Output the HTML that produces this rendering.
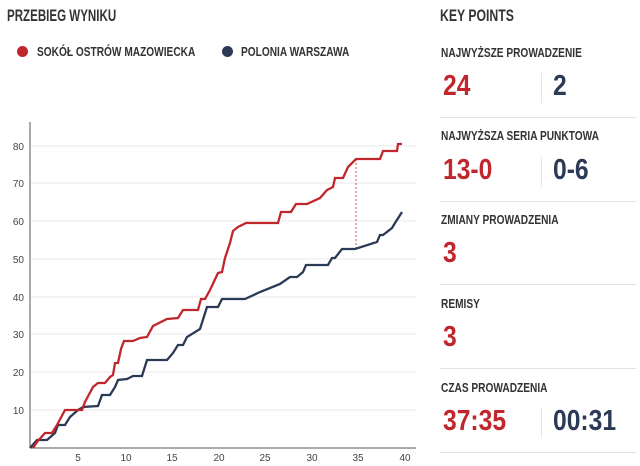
<!DOCTYPE html>
<html><head><meta charset="utf-8"><style>
body{margin:0;width:640px;height:466px;background:#fff;font-family:"Liberation Sans",sans-serif;overflow:hidden;position:relative;color:#333}
.t{position:absolute;font-weight:bold;white-space:nowrap;transform-origin:0 0;transform:scaleX(0.78)}
.lab{font-size:13px;color:#333;left:441px}
.big{font-size:29px;font-weight:bold;position:absolute;transform-origin:0 0;transform:scaleX(0.85);white-space:nowrap}
.r{color:#c0272d}.n{color:#2b3a55}
.hr{position:absolute;left:440px;width:196px;height:1px;background:#e3e3e3}
.vs{position:absolute;left:541px;width:1px;height:30px;background:#e6e6e6}
</style></head><body>
<div class="t" style="left:7px;top:6px;font-size:17px;color:#333;transform:scaleX(0.68)">PRZEBIEG WYNIKU</div>
<div style="position:absolute;left:17px;top:46px;width:11px;height:11px;border-radius:50%;background:#c0272d"></div>
<div class="t" style="left:37px;top:44px;font-size:13px">SOKÓŁ OSTRÓW MAZOWIECKA</div>
<div style="position:absolute;left:222px;top:46px;width:11px;height:11px;border-radius:50%;background:#2b3a55"></div>
<div class="t" style="left:241px;top:44px;font-size:13px">POLONIA WARSZAWA</div>
<svg style="position:absolute;left:0;top:0" width="430" height="466">
<g stroke="#e8e8e8" stroke-width="1">
<line x1="30" x2="416" y1="410" y2="410"/><line x1="30" x2="416" y1="372" y2="372"/><line x1="30" x2="416" y1="334" y2="334"/><line x1="30" x2="416" y1="297" y2="297"/><line x1="30" x2="416" y1="259" y2="259"/><line x1="30" x2="416" y1="221" y2="221"/><line x1="30" x2="416" y1="183" y2="183"/><line x1="30" x2="416" y1="146" y2="146"/>
</g>
<line x1="30" y1="122" x2="30" y2="448" stroke="#555"/>
<line x1="30" y1="448" x2="416" y2="448" stroke="#555"/>
<g font-family="Liberation Sans,sans-serif" font-size="10" fill="#444" text-anchor="end">
<text x="24" y="414">10</text><text x="24" y="376">20</text><text x="24" y="338">30</text><text x="24" y="301">40</text><text x="24" y="263">50</text><text x="24" y="225">60</text><text x="24" y="187">70</text><text x="24" y="150">80</text>
</g>
<g font-family="Liberation Sans,sans-serif" font-size="10" fill="#444" text-anchor="middle">
<text x="78" y="461">5</text><text x="126" y="461">10</text><text x="172" y="461">15</text><text x="219" y="461">20</text><text x="265" y="461">25</text><text x="312" y="461">30</text><text x="358" y="461">35</text><text x="405" y="461">40</text>
</g>
<line x1="356" y1="159" x2="356" y2="249" stroke="#c0272d" stroke-width="0.8" stroke-dasharray="2,2"/>
<polyline fill="none" stroke="#2b3a55" stroke-width="2.3" points="30,448 37,440 47,440 55,433 58,425 65,425 70,417 78,410 83,407 98,406 102,395 110,395 115,387 118,380 127,379 133,376 142,376 147,360 167,360 173,353 178,345 183,345 187,337 200,329 207,307 218,307 222,299 245,299 260,292 280,284 290,277 297,277 303,272 306,265 328,265 332,258 335,258 342,249 355,249 377,242 380,235 383,235 392,228 395,223 402,212"/>
<polyline fill="none" stroke="#c0272d" stroke-width="2.3" points="33,448 37,442 45,433 52,433 57,425 65,410 82,410 85,402 93,387 98,383 105,383 110,377 113,375 115,363 118,363 121,349 124,341 133,341 140,338 147,337 153,326 167,319 178,318 183,310 198,310 201,299 205,299 210,290 218,273 222,272 225,258 230,243 233,231 238,227 246,223 278,223 281,212 291,212 296,204 307,204 320,198 327,190 333,187 335,178 343,178 348,167 356,159 380,159 383,151 397,151 398,144 402,144"/>
</svg>
<div class="t" style="left:440px;top:6px;font-size:17px;color:#333;transform:scaleX(0.72)">KEY POINTS</div>
<div class="t lab" style="top:45px">NAJWYŻSZE PROWADZENIE</div>
<div class="big r" style="left:443px;top:70px">24</div><div class="vs" style="top:73px"></div><div class="big n" style="left:553px;top:70px">2</div>
<div class="hr" style="top:117px"></div>
<div class="t lab" style="top:128px">NAJWYŻSZA SERIA PUNKTOWA</div>
<div class="big r" style="left:443px;top:154px">13-0</div><div class="vs" style="top:157px"></div><div class="big n" style="left:553px;top:154px">0-6</div>
<div class="hr" style="top:201px"></div>
<div class="t lab" style="top:212px">ZMIANY PROWADZENIA</div>
<div class="big r" style="left:443px;top:237px">3</div>
<div class="hr" style="top:284px"></div>
<div class="t lab" style="top:296px">REMISY</div>
<div class="big r" style="left:443px;top:321px">3</div>
<div class="hr" style="top:368px"></div>
<div class="t lab" style="top:380px">CZAS PROWADZENIA</div>
<div class="big r" style="left:443px;top:405px">37:35</div><div class="vs" style="top:408px"></div><div class="big n" style="left:553px;top:405px">00:31</div>
<div class="hr" style="top:452px"></div>
</body></html>
